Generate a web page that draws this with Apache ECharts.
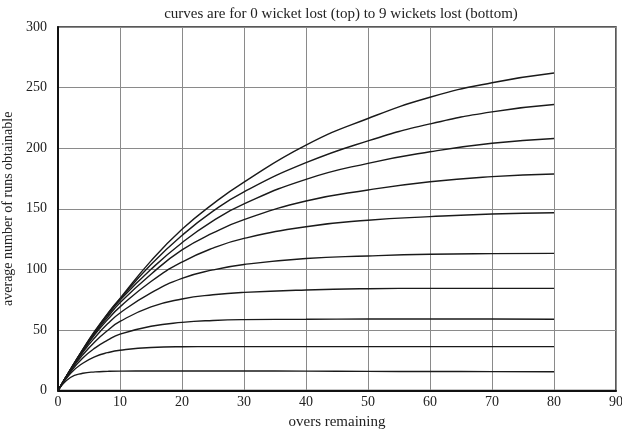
<!DOCTYPE html>
<html>
<head>
<meta charset="utf-8">
<script src="https://cdn.jsdelivr.net/npm/echarts@6/dist/echarts.min.js"></script>
<style>
html,body{margin:0;padding:0;background:#fff;}
#c{width:622px;height:432px;}
</style>
</head>
<body>
<div id="c"></div>
<script>
var overs = [0, 2, 4, 6, 8, 10, 15, 20, 25, 30, 40, 50, 60, 70, 80];
var xTicks = [0, 10, 20, 30, 40, 50, 60, 70, 80, 90];
var yTicks = [0, 50, 100, 150, 200, 250, 300];
var wickets0 = [0, 17.4, 34, 49.5, 63.5, 76, 107, 133, 154, 172, 202.5, 224.5, 242, 254, 262];
var wickets1 = [0, 17.3, 33.8, 49, 63, 75.5, 104, 128, 148, 164, 188, 206, 220, 230, 236];
var wickets2 = [0, 17.2, 33.5, 48.5, 62, 74.5, 100, 122, 140, 154, 174.3, 187.5, 197, 204, 208];
var wickets3 = [0, 17.1, 33, 47.5, 60.5, 72.5, 96, 116, 130, 141, 156.4, 165.5, 172.3, 176.5, 178.7];
var wickets4 = [0, 17, 32.5, 46.5, 58.5, 69, 90, 106, 117.5, 125.5, 135.2, 140.5, 143.5, 145.7, 146.7];
var wickets5 = [0, 16.8, 31.5, 44, 55, 64, 80.5, 92.5, 99.5, 104, 109, 111, 112.4, 113, 113.2];
var wickets6 = [0, 16.3, 29.5, 40.5, 49.5, 57, 69, 75.5, 79, 81, 83, 84, 84.3, 84.3, 84.3];
var wickets7 = [0, 15.3, 26.8, 35.2, 41.5, 46.5, 53, 56.2, 57.8, 58.5, 58.8, 59, 59, 59, 58.8];
var wickets8 = [0, 14, 22.5, 28, 31.2, 33.2, 35.5, 36.1, 36.2, 36.2, 36.2, 36.2, 36.2, 36.2, 36.2];
var wickets9 = [0, 10.7, 14.2, 15.4, 15.8, 16, 16.1, 16.1, 16.1, 16.1, 16.0, 15.8, 15.7, 15.6, 15.5];
var allCurves = [wickets0, wickets1, wickets2, wickets3, wickets4, wickets5, wickets6, wickets7, wickets8, wickets9];

var font = "'Liberation Serif', 'DejaVu Serif', serif";
var series = allCurves.map(function (vals, i) {
  return {
    name: i + ' wickets lost',
    type: 'line',
    smooth: 0.5,
    showSymbol: false,
    symbol: 'none',
    lineStyle: { color: '#1a1a1a', width: 1.4 },
    data: overs.map(function (o, k) { return [o, vals[k]]; }),
    z: 5
  };
});

var chart = echarts.init(document.getElementById('c'), null, { renderer: 'canvas' });
chart.setOption({
  backgroundColor: '#ffffff',
  animation: false,
  title: {
    text: 'curves are for 0 wicket lost (top) to 9 wickets lost (bottom)',
    left: 336, top: 2, textAlign: 'center',
    textStyle: { fontFamily: font, fontSize: 15, fontWeight: 'normal', color: '#222' }
  },
  grid: {
    left: 58, right: 6, top: 27, bottom: 41.5,
    outerBoundsMode: 'none',
    containLabel: false,
    show: true, borderColor: '#222', borderWidth: 1.5, backgroundColor: 'transparent'
  },
  xAxis: {
    type: 'value', min: xTicks[0], max: xTicks[xTicks.length - 1], interval: 10,
    name: 'overs remaining', nameLocation: 'middle', nameGap: 23,
    nameTextStyle: { fontFamily: font, fontSize: 15, color: '#222' },
    axisLine: { show: true, lineStyle: { color: '#111', width: 2 } },
    axisTick: { show: false },
    axisLabel: { fontFamily: font, fontSize: 14, color: '#222', margin: 5 },
    splitLine: { show: true, lineStyle: { color: '#8a8a8a', width: 1 } }
  },
  yAxis: {
    type: 'value', min: yTicks[0], max: yTicks[yTicks.length - 1], interval: 50,
    name: 'average number of runs obtainable', nameLocation: 'middle', nameGap: 42,
    nameTextStyle: { fontFamily: font, fontSize: 14, color: '#222' },
    axisLine: { show: true, lineStyle: { color: '#111', width: 2 } },
    axisTick: { show: false },
    axisLabel: { fontFamily: font, fontSize: 14, color: '#222', margin: 11 },
    splitLine: { show: true, lineStyle: { color: '#8a8a8a', width: 1 } }
  },
  series: series
});
</script>
</body>
</html>
